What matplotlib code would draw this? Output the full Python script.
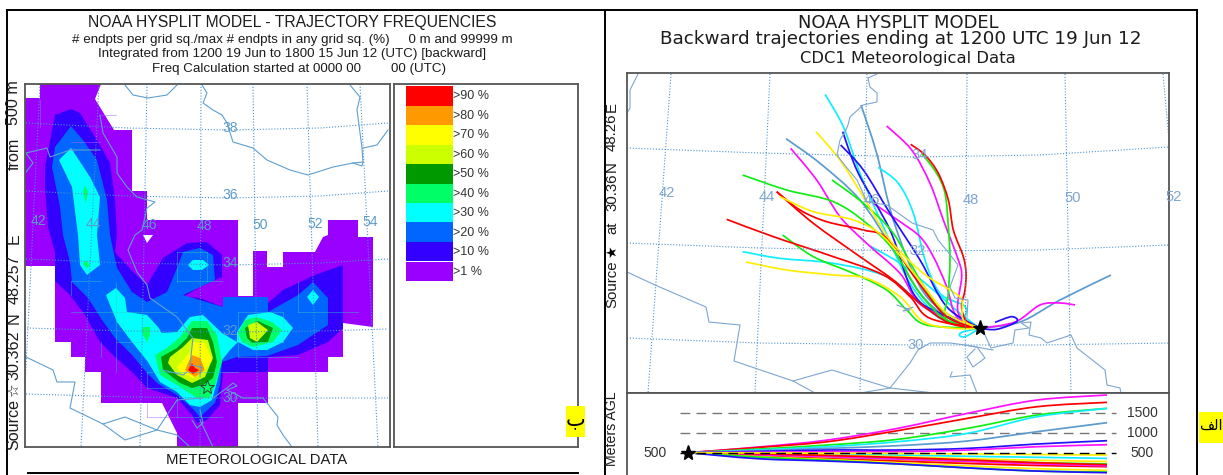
import numpy as np
import matplotlib
matplotlib.use("Agg")
import matplotlib.pyplot as plt
from matplotlib.path import Path
from matplotlib.patches import PathPatch, Rectangle

plt.rcParams['font.family'] = ['Liberation Sans', 'DejaVu Sans']
W, H = 1223, 475
TXT = '#1c1c1c'
FRAME = '#555555'
MAPC = '#5f9fd0'
MAPC2 = '#7fa6d0'
GRID = '#4c92cf'

# ---------- legend ----------
legend_labels = ['>90 %', '>80 %', '>70 %', '>60 %', '>50 %', '>40 %', '>30 %', '>20 %', '>10 %', '>1 %']
legend_colors = ['#ff0000', '#ff9900', '#ffff00', '#ccff00', '#009900', '#00ff66', '#00ffff', '#0066ff', '#3300ff', '#9900ff']

# ---------- left map: frequency contours (map pixel units) ----------
f1 = [(40,84),(40,98),(25,98),(25,266),(55,266),(55,342),(71,342),(71,357),(85,357),(85,372),(101,372),(101,403),
      (162,403),(177,433),(177,447),(238,447),(238,403),(268,403),(268,372),(328,372),(328,357),(343,357),(343,323),
      (358,325),(373,327),(373,237),(358,237),(358,220),(328,220),(328,235),(323,237),(315,252),(283,252),(283,267),
      (267,267),(267,251),(253,251),(253,296),(238,296),(238,220),(147,220),(147,191),(132,191),(132,130),(114,130),
      (95,99),(101,84)]
f10 = [(71,109),(55,115),(45,167),(45,187),(48,227),(55,252),(55,281),(70,295),(85,315),(100,342),(115,357),(132,372),
       (147,388),(177,398),(192,415),(197,423),(207,420),(220,405),(223,372),(268,372),(268,357),(298,355),(328,342),
       (343,328),(343,265),(315,275),(283,290),(268,303),(268,297),(223,297),(223,307),(200,298),(183,297),(200,287),
       (222,277),(222,255),(207,242),(187,243),(163,258),(147,285),(133,272),(115,252),(117,235),(115,200),(110,163),
       (97,140),(80,113)]
f20 = [(71,126),(55,147),(52,167),(60,207),(63,235),(70,262),(72,282),(88,298),(102,320),(115,338),(132,355),(147,373),
       (157,383),(177,395),(192,408),(200,417),(215,403),(220,385),(222,362),(237,357),(267,356),(298,345),(328,325),
       (328,298),(313,282),(298,295),(268,312),(268,297),(223,297),(223,307),(183,295),(215,280),(213,255),(200,248),
       (183,252),(177,268),(167,292),(147,302),(132,292),(117,268),(110,235),(107,200),(97,160),(83,140)]
f30_a = [(71,148),(59,160),(72,187),(78,235),(80,265),(87,275),(100,265),(97,235),(100,197),(90,177)]
f30_b = [(106,295),(116,288),(125,298),(127,312),(147,315),(158,327),(162,333),(177,332),(190,317),(203,315),(222,333),
         (237,342),(237,332),(248,315),(270,312),(283,317),(293,328),(283,342),(267,350),(253,350),(238,342),(230,350),
         (222,360),(217,382),(212,400),(200,407),(190,405),(177,392),(160,382),(148,362),(132,342),(117,322),(110,305)]
f30_c = [(188,265),(193,260),(203,260),(209,265),(202,270),(193,270)]
f30_d = [(307,297),(313,290),(319,297),(313,305)]
f40_a = [(180,337),(192,321),(207,321),(217,335),(222,362),(215,385),(210,398),(197,398),(177,385),(160,375),(155,355),(167,348)]
f40_b = [(245,320),(257,317),(272,322),(282,330),(273,342),(253,347),(242,342),(238,333)]
f40_c = [(142,327),(150,327),(150,335),(147,342),(142,333)]
f40_d = [(85,260),(90,265),(87,268),(83,264)]
f40_e = [(85,185),(88,192),(86,203),(83,192)]
f50_a = [(192,328),(207,328),(213,342),(217,362),(213,378),(203,385),(192,388),(180,383),(163,370),(161,357),(177,348),(187,338)]
f50_b = [(245,328),(258,321),(273,328),(268,342),(252,343),(247,338)]
f60_a = [(192,338),(208,340),(213,358),(205,377),(192,383),(177,375),(168,363),(170,357),(183,347)]
f60_b = [(248,325),(257,322),(268,330),(257,342),(250,338)]
f70 = [(193,342),(205,343),(212,360),(203,373),(193,378),(180,372),(177,367),(190,352)]
f80 = [(192,355),(200,358),(205,370),(195,377),(185,370),(188,363)]
f90 = [(192,363),(195,368),(199,370),(193,374),(188,370)]
hole = [(143,235),(153,235),(147,243)]
contour_sets = [('#9900ff',[f1]),('#3300ff',[f10]),('#0066ff',[f20]),('#00ffff',[f30_a,f30_b,f30_c,f30_d]),
                ('#00ff66',[f40_a,f40_b,f40_c,f40_d,f40_e]),('#009900',[f50_a,f50_b]),('#ccff00',[f60_a,f60_b]),
                ('#ffff00',[f70]),('#ff9900',[f80]),('#ff0000',[f90])]
cell_lines_cyan = [[(71,281),(101,281)],[(71,281),(71,295)],[(116,282),(116,372)],[(116,342),(147,342)],
                   [(71,312),(177,312)],[(177,252),(207,252)],[(177,252),(177,282)],[(177,281),(222,281)],[(207,252),(207,281)],
                   [(147,372),(238,372)],[(147,372),(147,388)],[(147,388),(207,388)],[(238,312),(283,312)],[(238,312),(238,357)],
                   [(238,342),(283,342)],[(283,312),(283,342)],[(298,281),(298,312)],[(298,312),(358,312)],[(177,398),(177,417)],
                   [(177,417),(222,417)],[(238,357),(298,357)],[(101,342),(101,357)]]
cell_lines_purple = [[(147,403),(147,417)],[(147,417),(177,417)],[(101,115),(116,115)],[(40,100),(40,127)],[(71,142),(100,142)]]

grid_left_lat = [[(26,123),(127,128),(230,130),(320,128),(388,123)],
                 [(26,191),(127,196),(230,198),(320,196),(388,191)],
                 [(26,259),(127,263),(230,265),(320,263),(388,259)],
                 [(27,328),(127,331),(227,332),(320,331),(388,329)],
                 [(26,394),(127,397),(227,398),(320,398),(388,398)]]
grid_left_lon = [[(40,84),(22,447)],[(99,84),(81,447)],[(147,84),(140,447)],[(201,84),(200,447)],
                 [(253,84),(258,447)],[(307,84),(318,447)],[(360,84),(378,447)]]
labels_left = [('38',230,128),('36',230,195),('34',230,263),('32',230,331),('30',230,398),('42',38,221),('44',93,224),
               ('46',149,225),('48',204,226),('50',260,225),('52',315,224),('54',370,222)]
border_left = [
 [(125,85),(133,95),(148,98),(167,95),(177,85)],
 [(202,85),(207,93),(203,103),(213,110),(222,115),(227,123),(233,142),(253,148),(267,160),(290,170),(308,175),(333,167),(353,163),(363,162),(362,148),(357,110),(360,97),(350,85)],
 [(363,148),(377,145),(388,130)],
 [(353,163),(362,166),(363,162)],
 [(100,115),(103,133),(117,157),(117,173),(127,187),(137,197),(155,202),(147,208),(142,230),(135,235),(128,250),(137,272),(147,285),(150,298),(177,317),(193,338),(190,365),(202,367),(200,375)],
 [(26,172),(33,163),(26,153),(47,148),(50,157),(70,150),(100,150)],
 [(26,357),(53,370),(57,382),(75,382),(70,408),(103,424),(125,440),(157,430),(177,400),(203,398)],
 [(103,424),(125,417),(157,430),(177,435),(190,447)],
 [(200,420),(213,447)],
 [(163,370),(183,375),(187,372)],
 [(213,398),(227,388),(233,383),(237,386),(227,390),(243,398),(263,398),(278,417),(277,425),(283,435),(292,447)],
 [(200,410),(203,423),(197,428),(192,420)],
]
star_left = (207, 387)

# ---------- right map ----------
grid_right_lat = [[(627,148),(760,153),(915,157),(1040,155),(1169,147)],
                  [(627,243),(760,248),(913,251),(1040,250),(1169,245)],
                  [(627,338),(760,343),(920,345),(1040,345),(1169,343)]]
grid_right_lon = [[(671,74),(648,393)],[(770,74),(755,393)],[(867,74),(860,393)],[(967,74),(965,393)],
                  [(1065,74),(1071,393)],[(1163,74),(1169,140)]]
labels_right = [('42',667,193),('44',767,197),('46',872,200),('48',971,200),('50',1073,198),('52',1174,197),
                ('34',920,155),('32',918,251),('30',916,345)]
border_right = [
 [(638,74),(630,90),(630,108),(627,113)],
 [(877,74),(868,78),(870,87),(877,93),(877,102),(863,105),(850,117),(848,125),(845,132),(840,140),(837,155),(843,163),(857,180),(867,202),(887,205),(912,223),(933,230),(938,240),(948,252),(958,265),(950,287),(955,298),(968,300),(967,317)],
 [(627,272),(655,285),(706,307),(709,322),(740,325),(737,343),(734,361),(793,381),(832,370),(890,388),(910,363),(918,350),(930,343),(950,343),(965,345),(993,350)],
 [(793,381),(815,393)],
 [(860,393),(890,388),(934,393)],
 [(965,345),(977,347),(985,358),(973,367),(967,357),(975,349)],
 [(952,372),(950,377),(970,375),(977,393)],
 [(977,328),(985,335),(991,348),(1013,343),(1015,330),(1029,328),(1021,323),(1031,322),(1029,335),(1041,338),(1047,343),(1071,335),(1077,348),(1105,370),(1107,385),(1120,388),(1121,393)],
 [(897,305),(910,310),(903,311),(913,307)],
]
star_right = (980, 328)

# trajectories, as read on a 3x enlarged crop whose origin is at (600, 60)
t_red1 = [(932,253),(975,285),(1015,340),(1045,420),(1060,510),(1090,590),(1098,640),(1095,690),(1085,740),(1100,785),(1140,805)]
t_grn1 = [(965,280),(1010,340),(1035,400),(1045,500),(1050,600),(1045,700),(1040,780),(1140,805)]
t_mag1 = [(860,198),(935,270),(990,370),(1030,480),(1075,600),(1085,650),(1075,760),(1140,805)]
t_stl1 = [(783,135),(830,280),(880,480),(960,680),(1040,760),(1140,805)]
t_cyn1 = [(675,103),(730,200),(780,340),(850,500),(930,670),(1020,770),(1140,805)]
t_blu1 = [(728,215),(775,340),(870,510),(940,700),(1020,760),(1140,805)]
t_blu2 = [(722,255),(790,330),(870,460),(960,600),(1040,740),(1140,805)]
t_cyn2 = [(835,322),(895,370),(940,460),(975,600),(1020,700),(1090,735),(1098,760),(1080,790),(1140,805)]
t_yel1 = [(648,215),(720,300),(790,410),(870,540),(970,640),(1050,690),(1085,720),(1090,780),(1140,805)]
t_stl2 = [(558,236),(660,310),(780,420),(880,570),(960,700),(1040,770),(1140,805)]
t_mag2 = [(572,265),(650,360),(720,470),(800,550),(900,640),(970,740),(1140,805)]
t_grn2 = [(696,360),(790,430),(880,520),(960,660),(1040,770),(1140,805)]
t_mag3 = [(820,430),(900,485),(960,530),(1000,590),(1040,680),(1070,770),(1140,805)]
t_grn3 = [(428,345),(560,390),(700,425),(800,490),(880,570),(960,700),(1040,780),(1140,805)]
t_red2 = [(530,395),(600,450),(680,485),(790,510),(860,535),(950,660),(1040,770),(1140,805)]
t_yel2 = [(540,410),(640,455),(760,480),(850,530),(950,650),(1040,760),(1140,805)]
t_red3 = [(530,395),(640,490),(780,590),(880,660),(960,730),(1050,790),(1140,805)]
t_red4 = [(380,478),(520,530),(700,590),(850,645),(930,710),(990,775),(1140,805)]
t_grn4 = [(548,525),(640,590),(760,640),(860,690),(920,750),(980,795),(1140,805)]
t_cyn3 = [(428,575),(540,595),(700,610),(860,650),(960,730),(1040,785),(1140,805)]
t_yel3 = [(438,606),(560,630),(700,645),(800,655),(900,710),(970,785),(1060,805),(1140,805)]
t_cyn4 = [(810,558),(900,610),(1000,690),(1080,760),(1140,805)]
t_blu3 = [(1140,805),(1190,808),(1250,785),(1235,770),(1185,787)]
t_stl3 = [(1140,805),(1260,786),(1380,720),(1533,645)]
t_mag4 = [(1140,805),(1245,786),(1320,735),(1380,729),(1425,735)]
t_cyn5 = [(1140,805),(1090,815),(1078,825),(1095,830),(1140,805)]
RED, GRN, MAG, STL, CYN, BLU, YEL = '#ff0000', '#11ee11', '#ff11ff', '#5b9bd0', '#11eeff', '#2211ff', '#ffee00'
trajectories = [(t_stl1,STL),(t_stl2,STL),(t_stl3,STL),(t_cyn1,CYN),(t_cyn2,CYN),(t_cyn3,CYN),(t_cyn4,CYN),(t_cyn5,CYN),
                (t_mag1,MAG),(t_mag2,MAG),(t_mag3,MAG),(t_mag4,MAG),(t_blu1,BLU),(t_blu2,BLU),(t_blu3,BLU),
                (t_grn1,GRN),(t_grn2,GRN),(t_grn3,GRN),(t_grn4,GRN),(t_red1,RED),(t_red2,RED),(t_red3,RED),(t_red4,RED),
                (t_yel1,YEL),(t_yel2,YEL),(t_yel3,YEL)]

# ---------- height panel: metres above ground vs hours back ----------
hours = [0, 15, 30, 45, 60, 75, 90]
heights = [
 ([500,640,817,1108,1483,1817,1942], MAG),
 ([500,630,775,1050,1358,1650,1758], RED),
 ([500,590,692,833,1108,1442,1608], GRN),
 ([500,570,650,775,983,1400,1608], CYN),
 ([500,550,608,675,792,1025,1250], STL),
 ([500,530,567,567,608,717,800], BLU),
 ([500,510,525,525,567,650,700], MAG),
 ([500,480,460,440,410,385,358], CYN),
 ([500,470,440,400,350,310,280], YEL),
 ([500,440,380,320,270,230,210], STL),
 ([500,455,410,360,300,250,220], GRN),
 ([500,430,360,300,250,210,190], YEL),
 ([500,420,350,290,230,180,150], RED),
 ([500,445,400,340,280,220,170], MAG),
 ([500,470,430,380,320,250,200], RED),
 ([500,400,330,250,170,100,60], YEL),
 ([500,390,310,220,120,40,17], GRN),
 ([500,350,290,220,120,40,0], BLU),
 ([500,495,490,480,470,455,442], YEL),
]
ref_levels = [500, 1000, 1500]
star_height = (0, 500)

title_left = ['NOAA HYSPLIT MODEL - TRAJECTORY FREQUENCIES',
              '# endpts per grid sq./max # endpts in any grid sq. (%)     0 m and 99999 m',
              'Integrated from 1200 19 Jun to 1800 15 Jun 12 (UTC) [backward]',
              'Freq Calculation started at 0000 00        00 (UTC)']
title_right = ['NOAA HYSPLIT MODEL', 'Backward trajectories ending at 1200 UTC 19 Jun 12', 'CDC1 Meteorological Data']


def px_axes(fig, x0, y0, x1, y1, **kw):
    return fig.add_axes([x0 / W, 1 - y1 / H, (x1 - x0) / W, (y1 - y0) / H], **kw)


def smooth_path(pts):
    """A chain of Bezier segments through the read points (Catmull-Rom handles)."""
    p = np.asarray(pts, float)
    verts, codes = [p[0]], [Path.MOVETO]
    for i in range(len(p) - 1):
        a = p[max(i - 1, 0)]; b = p[i]; c = p[i + 1]; d = p[min(i + 2, len(p) - 1)]
        verts += [b + (c - a) / 6, c - (d - b) / 6, c]
        codes += [Path.CURVE4] * 3
    return Path(verts, codes)


def map_frame(ax):
    ax.set_xticks([]); ax.set_yticks([])
    for s in ax.spines.values():
        s.set_color(FRAME); s.set_linewidth(1.3)


def polyline(ax, pts, **kw):
    a = np.asarray(pts, float)
    ax.plot(a[:, 0], a[:, 1], **kw)


fig = plt.figure(figsize=(W / 100, H / 100), dpi=100, facecolor='white')

# page layer, above the panels
page = px_axes(fig, 0, 0, W, H, zorder=10)
page.set_xlim(0, W); page.set_ylim(H, 0); page.axis('off')
for seg in [[(7, 10), (7, 475)], [(7, 10), (605, 10)], [(28, 472.5), (578, 472.5)], [(604.5, 10), (604.5, 475)],
            [(604.5, 10), (1197, 10)], [(1196.5, 10), (1196.5, 475)]]:
    polyline(page, seg, color='black', lw=1.4)


def T(x, y, s, size, rot=0, ha='center', color=TXT, **kw):
    return page.text(x, y, s, fontsize=size, rotation=rot, ha=ha, va='center', color=color, **kw)


T(292, 22, title_left[0], 11.3)
T(292, 40, title_left[1], 9.6)
T(292, 54, title_left[2], 9.65)
T(299.5, 69, title_left[3], 9.65)
T(257, 460, 'METEOROLOGICAL DATA', 10.7)
for s, y in [('Source', 425), ('30.362', 355), ('N', 318), ('48.257', 279), ('E', 239), ('from', 154), ('500 m', 103)]:
    T(14, y, s, 11.6, rot=90)
T(14, 390, '☆', 11, rot=90, family='DejaVu Sans')

T(898, 23, title_right[0], 12.9, family='DejaVu Sans')
T(900.5, 39.5, title_right[1], 13.2, family='DejaVu Sans')
T(908, 58, title_right[2], 11.8, family='DejaVu Sans')
for s, y in [('Source', 284), ('at', 228), ('30.36', 192), ('N', 167), ('48.26', 132), ('E', 107)]:
    T(612, y, s, 10.8, rot=90)
T(612, 252, '★', 10, rot=90, family='DejaVu Sans', color='black')
T(612, 429, 'Meters AGL', 10.2, rot=90)

# Arabic panel tags (presentation forms, laid out left to right)
page.add_patch(Rectangle((566, 406), 19, 31, facecolor='#ffff00', edgecolor='none', zorder=3))
T(575.5, 419, '\ufe8f', 15, family='DejaVu Sans', color='black', zorder=4)
page.add_patch(Rectangle((1199, 412), 24, 31, facecolor='#ffff00', edgecolor='none', zorder=3))
T(1211, 425, '\ufed2\ufedf\ufe8d', 10.5, family='DejaVu Sans', color='black', zorder=4)

# left map
axL = px_axes(fig, 25.5, 84, 389.5, 447)
axL.set_xlim(25.5, 389.5); axL.set_ylim(447, 84)
map_frame(axL)
for color, polys in contour_sets:
    for poly in polys:
        axL.fill(*zip(*poly), color=color, lw=0)
axL.fill(*zip(*hole), color='white', lw=0)
for seg in cell_lines_cyan:
    polyline(axL, seg, color='#33cccc', lw=0.5, alpha=0.6)
for seg in cell_lines_purple:
    polyline(axL, seg, color='#aa66ff', lw=0.5, alpha=0.7)
for line in grid_left_lat + grid_left_lon:
    polyline(axL, line, color=GRID, lw=0.8, ls=(0, (1, 1.6)))
for line in border_left:
    polyline(axL, line, color=MAPC, lw=0.8)
for s, x, y in labels_left:
    axL.text(x, y, s, color='#5b9cc9', fontsize=10, ha='center', va='center')
axL.plot(*star_left, marker='*', ms=10, mfc='none', mec='#334433', mew=0.7)

# legend panel
axK = px_axes(fig, 394, 84, 578, 447)
axK.set_xlim(394, 578)
axK.set_ylim((447 - 86) / 19.5, -2 / 19.5)
map_frame(axK)
rows = np.arange(len(legend_labels)) + 0.5
axK.barh(rows, [47] * len(rows), left=406, height=1.0, color=legend_colors, lw=0)
for r, s in zip(rows, legend_labels):
    axK.text(453, r + 0.02, s, fontsize=9, color='#333333', va='center', ha='left')

# right map
axR = px_axes(fig, 627, 73, 1169, 392.5)
axR.set_xlim(627, 1169); axR.set_ylim(392.5, 73)
map_frame(axR)
for line in grid_right_lat + grid_right_lon:
    polyline(axR, line, color=GRID, lw=0.8, ls=(0, (1, 1.6)))
for line in border_right:
    polyline(axR, line, color=MAPC2, lw=0.8)
for s, x, y in labels_right:
    page.text(x, y, s, color='#7da5d2', fontsize=10.6, ha='center', va='center', zorder=1)
for pts, c in trajectories:
    px = np.asarray(pts, float) / 3 + [600, 60]
    axR.add_patch(PathPatch(smooth_path(px), fc='none', ec=c, lw=1.25))
axR.plot(*star_right, marker='*', ms=11, mfc='black', mec='black', zorder=6)

# height panel
axZ = px_axes(fig, 627, 392.5, 1169, 475)
x_per_hour = (1107 - 688) / 90
axZ.set_xlim((627 - 688) / x_per_hour, (1169 - 688) / x_per_hour)
axZ.set_ylim(500 - (475 - 452.7) / 0.04, 500 + (452.7 - 392.5) / 0.04)
map_frame(axZ)
axZ.spines['bottom'].set_visible(False)
dash_end = (1116 - 688) / x_per_hour
for lev in ref_levels:
    axZ.plot([-1.8, dash_end], [lev, lev], color='black' if lev == 500 else '#777777', lw=1.0, ls=(0, (7, 4.5)), zorder=1 if lev != 500 else 4)
    axZ.text((1142 - 688) / x_per_hour, lev, str(lev), fontsize=10, color='#333333', ha='center', va='center')
axZ.text((655 - 688) / x_per_hour, 500, '500', fontsize=10, color='#333333', ha='center', va='center')
for vals, c in heights:
    axZ.add_patch(PathPatch(smooth_path(list(zip(hours, vals))), fc='none', ec=c, lw=1.25, zorder=3))
axZ.plot(*star_height, marker='*', ms=11, mfc='black', mec='black', zorder=6, clip_on=False)

fig.savefig('out.png', dpi=100)
